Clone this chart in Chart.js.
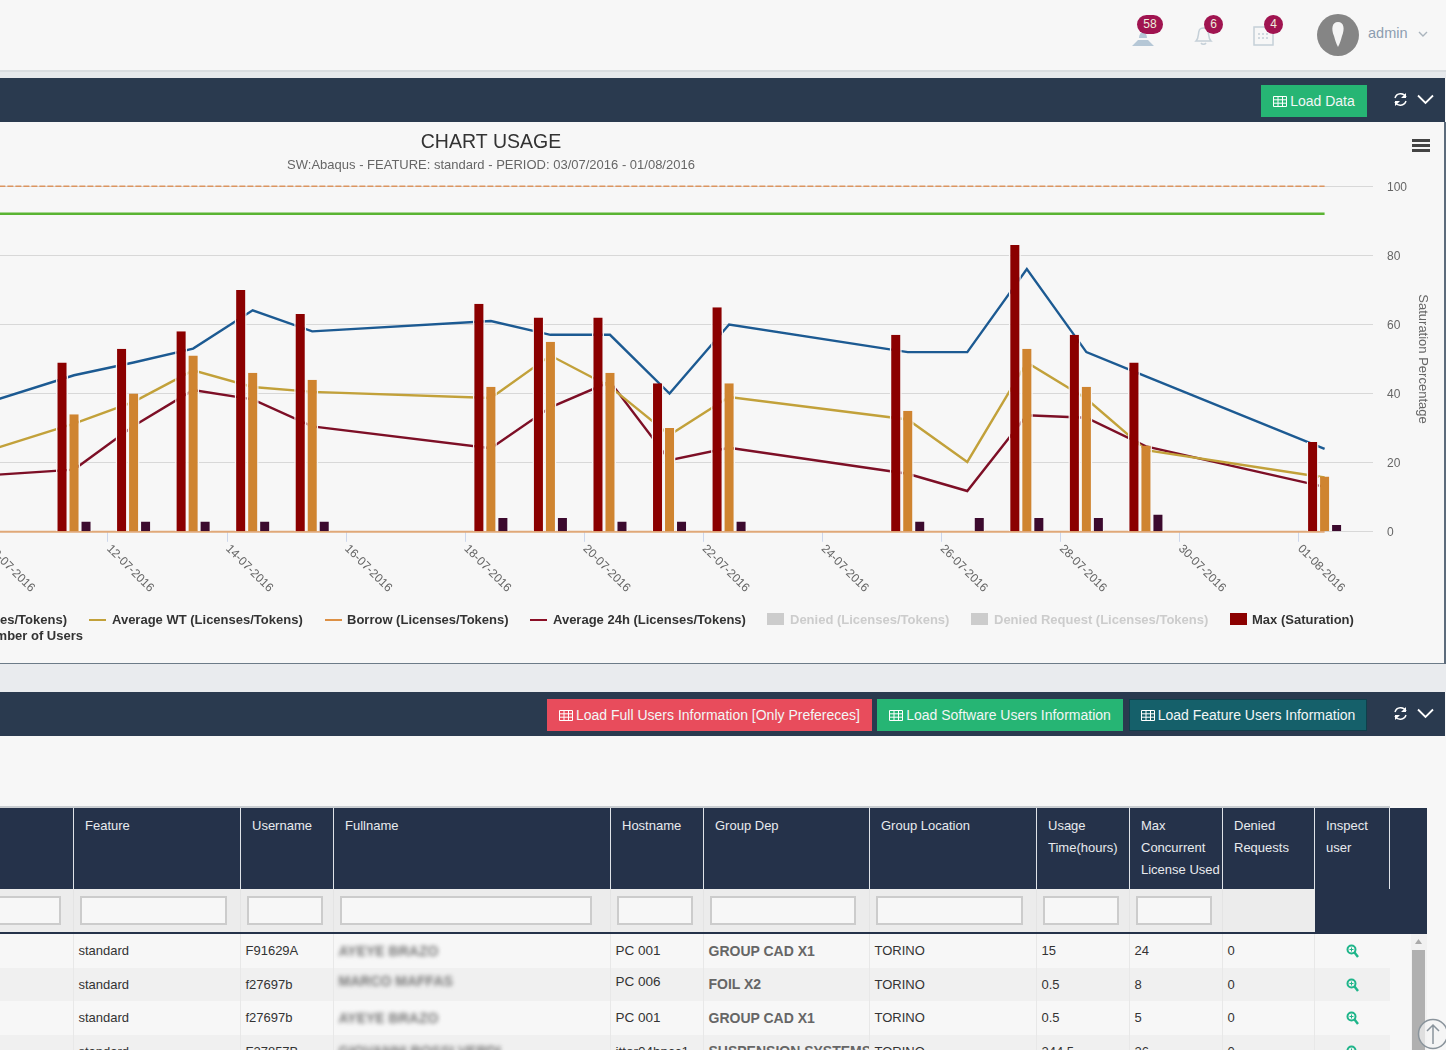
<!DOCTYPE html>
<html>
<head>
<meta charset="utf-8">
<title>Chart usage</title>
<script src="https://cdn.jsdelivr.net/npm/chart.js@4"></script>
<style>
html, body { margin: 0; padding: 0; }
body { width: 1446px; height: 1050px; position: relative; overflow: hidden; background: #f7f7f7; font-family: "Liberation Sans", Arial, sans-serif; }
.abs { position: absolute; }
.bar { position: absolute; left: 0; width: 1445px; height: 44px; background: #2a3a4f; }
.btn { position: absolute; height: 32px; line-height: 32px; color: #f2f6f6; font-size: 14px; text-align: center; box-sizing: border-box; white-space: nowrap; }
.btn svg { vertical-align: -1px; margin-right: 3px; }
.badge { position: absolute; height: 19px; line-height: 19px; border-radius: 10px; background: #a01450; color: #eed; font-size: 12px; text-align: center; }
.leg { position: absolute; font-size: 13px; font-weight: bold; color: #333; white-space: nowrap; line-height: 15px; }
.sym { position: absolute; }
table { position: absolute; left: -100px; top: 808px; border-collapse: collapse; table-layout: fixed; width: 1489px; font-size: 13px; }
th { background: #25324a; color: #e8eaee; font-weight: normal; text-align: left; vertical-align: top; height: 81px; padding: 7px 0 0 11px; line-height: 22px; box-sizing: border-box; border-left: 1px solid #dfe3e8; }
th:last-child { border-right: 1px solid #dfe3e8; }
td.filter { background: #ececec; height: 43px; padding: 0; border-left: 1px solid #e4e4e4; box-sizing: border-box; }
td.filter div { margin-left: 6px; height: 29px; box-sizing: border-box; border: 2px solid #ccc; background: #f7f7f7; }
td.cell { height: 33.5px; padding: 0 0 0 4.5px; color: #333; box-sizing: border-box; border-left: 1px solid #e8e8e8; white-space: nowrap; overflow: hidden; }
tr.even td.cell { background: #f0f0f0; }
.host { font-size: 13.5px; color: #333; }
.group { font-size: 14px; font-weight: bold; color: #666; }
.blur { filter: blur(2.2px); color: #777; font-weight: bold; font-size: 14px; display: inline-block; }
</style>
</head>
<body>

<!-- top bar -->
<div class="abs" style="left:0;top:70px;width:1446px;height:8px;background:#e6e9ec;border-top:2px solid #d9dde0;box-sizing:border-box"></div>
<svg class="abs" style="left:1130px;top:24px" width="26" height="24"><path d="M2 22 L8 16 H18 L24 22 Z M9 14 a4 6 0 0 1 8 0 Z" fill="#b5c7d6"/></svg>
<div class="badge" style="left:1137px;top:15px;width:26px">58</div>
<svg class="abs" style="left:1192px;top:22px" width="24" height="26"><path d="M4 19 C7 16 6 12 7 9 C8 5 15 5 16 9 C17 12 16 16 19 19 Z M9 21 a3 3 0 0 0 5 0" fill="none" stroke="#c5d0d8" stroke-width="1.5"/></svg>
<div class="badge" style="left:1204px;top:15px;width:19px">6</div>
<svg class="abs" style="left:1252px;top:24px" width="24" height="24"><rect x="2" y="3" width="19" height="18" fill="none" stroke="#c5d0d8" stroke-width="1.5"/><path d="M6 10h2M10 10h2M14 10h2M6 14h2M10 14h2M14 14h2" stroke="#c5d0d8" stroke-width="1.5"/></svg>
<div class="badge" style="left:1264px;top:15px;width:19px">4</div>
<svg class="abs" style="left:1317px;top:14px" width="42" height="42"><circle cx="21" cy="21" r="21" fill="#858585"/><path d="M21 8 C27 8 28 15 25 22 C24 26 23 29 21 33 C19 29 18 26 17 22 C14 15 15 8 21 8 Z" fill="#f4f4f4"/></svg>
<div class="abs" style="left:1368px;top:25px;font-size:14.5px;color:#8c9db0">admin</div>
<svg class="abs" style="left:1418px;top:30px" width="10" height="8"><path d="M1 2 L5 6 L9 2" fill="none" stroke="#aab4bd" stroke-width="1.4"/></svg>

<!-- chart panel header -->
<div class="bar" style="top:78px"></div>
<div class="btn" style="left:1261px;top:85px;width:106px;background:#26b574"><svg width="14" height="11"><path d="M.5.5h13v10h-13zM.5 3.8h13M.5 7.2h13M5 .5v10M9.5.5v10" fill="none" stroke="#fff"/></svg>Load Data</div>
<svg class="abs" style="left:1392px;top:91px" width="17" height="17"><path d="M3 7 A6 6 0 0 1 14 6 M14 10 A6 6 0 0 1 3 11" fill="none" stroke="#fff" stroke-width="1.5"/><path d="M14 2v5h-5zM3 15v-5h5z" fill="#fff"/></svg>
<svg class="abs" style="left:1417px;top:94px" width="17" height="11"><path d="M1 1.5 L8.5 9 L16 1.5" fill="none" stroke="#fff" stroke-width="1.8"/></svg>

<!-- chart panel -->
<div class="abs" style="left:0;top:122px;width:1446px;height:542px;overflow:hidden;border-bottom:1px solid #6c7b88;box-sizing:border-box">
  <canvas id="usageChart" width="1908" height="541" class="abs" style="left:-463px;top:0;width:1908px;height:541px"></canvas>
</div>
<div class="abs" style="left:1444px;top:122px;width:2px;height:542px;background:#5d6c7c"></div>
<div class="abs" style="left:1412px;top:139px;width:18px;height:3px;background:#444;box-shadow:0 5px 0 #444,0 10px 0 #444"></div>

<!-- legend, first and last entries run off the crop -->
<div class="leg" style="right:1379px;top:612px">Max (Licenses/Tokens)</div>
<div class="sym" style="left:89px;top:619px;width:17px;height:2px;background:#c2a13a"></div>
<div class="leg" style="left:112px;top:612px">Average WT (Licenses/Tokens)</div>
<div class="sym" style="left:325px;top:619px;width:17px;height:2px;background:#dd9045"></div>
<div class="leg" style="left:347px;top:612px">Borrow (Licenses/Tokens)</div>
<div class="sym" style="left:530px;top:619px;width:17px;height:2px;background:#8b0f26"></div>
<div class="leg" style="left:553px;top:612px">Average 24h (Licenses/Tokens)</div>
<div class="sym" style="left:767px;top:613px;width:17px;height:12px;background:#ccc"></div>
<div class="leg" style="left:790px;top:612px;color:#ccc">Denied (Licenses/Tokens)</div>
<div class="sym" style="left:971px;top:613px;width:17px;height:12px;background:#ccc"></div>
<div class="leg" style="left:994px;top:612px;color:#ccc">Denied Request (Licenses/Tokens)</div>
<div class="sym" style="left:1230px;top:613px;width:17px;height:12px;background:#8b0000"></div>
<div class="leg" style="left:1252px;top:612px">Max (Saturation)</div>
<div class="leg" style="right:1363px;top:628px">Max Number of Users</div>

<!-- table panel -->
<div class="abs" style="left:0;top:664px;width:1446px;height:28px;background:#e9ebee"></div>
<div class="bar" style="top:692px"></div>
<div class="btn" style="left:547px;top:699px;width:325px;background:#e84c5c"><svg width="14" height="11"><path d="M.5.5h13v10h-13zM.5 3.8h13M.5 7.2h13M5 .5v10M9.5.5v10" fill="none" stroke="#fff"/></svg>Load Full Users Information [Only Prefereces]</div>
<div class="btn" style="left:877px;top:699px;width:246px;background:#26b574"><svg width="14" height="11"><path d="M.5.5h13v10h-13zM.5 3.8h13M.5 7.2h13M5 .5v10M9.5.5v10" fill="none" stroke="#fff"/></svg>Load Software Users Information</div>
<div class="btn" style="left:1129px;top:699px;width:238px;background:#15606a;border:1px solid #0f3f4a;line-height:30px"><svg width="14" height="11"><path d="M.5.5h13v10h-13zM.5 3.8h13M.5 7.2h13M5 .5v10M9.5.5v10" fill="none" stroke="#fff"/></svg>Load Feature Users Information</div>
<svg class="abs" style="left:1392px;top:705px" width="17" height="17"><path d="M3 7 A6 6 0 0 1 14 6 M14 10 A6 6 0 0 1 3 11" fill="none" stroke="#fff" stroke-width="1.5"/><path d="M14 2v5h-5zM3 15v-5h5z" fill="#fff"/></svg>
<svg class="abs" style="left:1417px;top:708px" width="17" height="11"><path d="M1 1.5 L8.5 9 L16 1.5" fill="none" stroke="#fff" stroke-width="1.8"/></svg>

<div class="abs" style="left:0;top:806px;width:1390px;height:2px;background:#c9cdd1"></div>
<div class="abs" style="left:0;top:808px;width:1427px;height:126px;background:#25324a"></div>
<table id="usersTable"></table>
<div class="abs" style="left:0;top:932px;width:1427px;height:2px;background:#25324a"></div>
<div class="abs" style="left:1411px;top:934px;width:16px;height:116px;background:#f1f1f1"></div>
<div class="abs" style="left:1412px;top:950px;width:13px;height:100px;background:#b0b0b0"></div>
<svg class="abs" style="left:1414px;top:938px" width="9" height="7"><path d="M4.5 1 L8 6 H1 Z" fill="#aaa"/></svg>
<svg class="abs" style="left:1417px;top:1017px" width="29" height="33"><circle cx="16" cy="17" r="14.5" fill="#f4f4f4" fill-opacity=".7" stroke="#8a949c" stroke-width="1.5"/><path d="M16 27V8M10 14l6-6 6 6" fill="none" stroke="#8a949c" stroke-width="1.5"/></svg>

<script>
// Chart values. X is the day counted from 1 July
const sampleDays = [8.43, 11.43, 12.43, 13.43, 14.43, 15.43, 18.43, 19.43, 20.43, 21.43, 22.43, 25.43, 26.43, 27.43, 28.43, 29.43, 32.43];
const maxTokens = [29, 45.3, 49, 53, 64.1, 58, 61, 57, 57, 40, 60, 52, 52, 76, 52, 45, 24];
const averageWt = [15, 31.3, 37.6, 46.7, 41.9, 40.5, 38.7, 51, 42, 28, 39, 32.5, 20.2, 49, 38.5, 23.6, 15.7];
const average24h = [14.6, 18, 30.6, 41, 38.3, 30.5, 24.2, 36, 43.4, 20.7, 24.3, 16.8, 11.8, 33.7, 33, 24.7, 13];
const borrowLine = [0, 0, 0, 0, 0, 0, 0, 0, 0, 0, 0, 0, 0, 0, 0, 0, 0];
const capacityLine = [92, 92, 92, 92, 92, 92, 92, 92, 92, 92, 92, 92, 92, 92, 92, 92, 92];
const totalLine = [100, 100, 100, 100, 100, 100, 100, 100, 100, 100, 100, 100, 100, 100, 100, 100, 100];
const maxSaturation = [null, 49, 53, 58, 70, 63, 66, 62, 62, 43, 65, 57, null, 83, 57, 49, 26];
const maxConcurrent = [null, 34, 40, 51, 46, 44, 42, 55, 46, 30, 43, 35, null, 53, 42, 25, 16];
const numberOfUsers = [null, 3, 3, 3, 3, 3, 4, 4, 3, 3, 3, 3, 4, 4, 4, 5, 2];
const tickDays = [4, 6, 8, 10, 12, 14, 16, 18, 20, 22, 24, 26, 28, 30, 32];
const tickLabels = ["04-07-2016", "06-07-2016", "08-07-2016", "10-07-2016", "12-07-2016", "14-07-2016", "16-07-2016", "18-07-2016", "20-07-2016", "22-07-2016", "24-07-2016", "26-07-2016", "28-07-2016", "30-07-2016", "01-08-2016"];
const yTicks = [0, 20, 40, 60, 80, 100];

// Table values
const columns = ["", "Feature", "Username", "Fullname", "Hostname", "Group Dep", "Group Location", "Usage Time(hours)", "Max Concurrent License Used", "Denied Requests", "Inspect user"];
const columnWidths = [173, 167, 93, 277, 93, 166, 167, 93, 93, 92, 75];
const filterWidths = [154, 147, 76, 252, 76, 146, 147, 76, 76];
const rows = [
  ["", "standard", "F91629A", "AYEYE BRAZO", "PC 001", "GROUP CAD X1", "TORINO", "15", "24", "0"],
  ["", "standard", "f27697b", "MARCO MAFFAS", "PC 006", "FOIL X2", "TORINO", "0.5", "8", "0"],
  ["", "standard", "f27697b", "AYEYE BRAZO", "PC 001", "GROUP CAD X1", "TORINO", "0.5", "5", "0"],
  ["", "standard", "F27857B", "GIOVANNI ROSSI VERDI", "jttor04hpcc1", "SUSPENSION SYSTEMS(6", "TORINO", "244.5", "26", "0"]
];

function lineSet(label, data, color, width, dash) {
  return {
    type: "line", label,
    data: data.map((y, i) => ({ x: sampleDays[i], y })),
    borderColor: color, borderWidth: width, borderDash: dash || [],
    pointRadius: 0, tension: 0, fill: false, order: 2, clip: false
  };
}

function barSet(label, data, color) {
  return {
    type: "bar", label,
    data: data.map((y, i) => ({ x: sampleDays[i], y })),
    backgroundColor: color,
    // the gap between bars is a border in the panel colour, it hides the lines
    borderColor: "#f7f7f7", borderWidth: { left: 1.5, right: 1.5, top: 0, bottom: 0 },
    barPercentage: 1, categoryPercentage: 0.6045, order: 1
  };
}

// Chart.js only right-aligns rotated labels, these hang down to the right from the tick
const slantedLabels = {
  id: "slantedLabels",
  afterDraw(chart) {
    const ctx = chart.ctx, scale = chart.scales.x;
    ctx.save();
    ctx.font = "12px 'Liberation Sans'";
    ctx.fillStyle = "#666";
    ctx.textBaseline = "middle";
    tickDays.forEach((d, i) => {
      ctx.save();
      ctx.translate(scale.getPixelForValue(d) + 0.5, chart.chartArea.bottom + 15);
      ctx.rotate(Math.PI / 4);
      ctx.fillText(tickLabels[i], 0, 0);
      ctx.restore();
    });
    ctx.restore();
  }
};

new Chart(document.getElementById("usageChart"), {
  type: "bar",
  plugins: [slantedLabels],
  data: {
    datasets: [
      lineSet("Max (Licenses/Tokens)", maxTokens, "#1c5a92", 2.4),
      lineSet("Average WT (Licenses/Tokens)", averageWt, "#c2a13a", 2.4),
      lineSet("Borrow (Licenses/Tokens)", borrowLine, "#e0a878", 2),
      lineSet("Average 24h (Licenses/Tokens)", average24h, "#7d0f26", 2.4),
      lineSet("Capacity", capacityLine, "#5ab432", 2.5),
      lineSet("Total", totalLine, "#dc9560", 1.5, [6, 2]),
      barSet("Max (Saturation)", maxSaturation, "#8b0000"),
      barSet("Max Concurrent", maxConcurrent, "#cf8430"),
      barSet("Max Number of Users", numberOfUsers, "#3c0a2e")
    ]
  },
  options: {
    responsive: false,
    animation: false,
    layout: { padding: { left: 0, right: 0, top: 0, bottom: 121.2 } },
    plugins: {
      legend: { display: false },
      tooltip: { enabled: false },
      title: {
        display: true, text: "CHART USAGE", color: "#333",
        font: { family: "'Liberation Sans'", size: 19.5, weight: "normal" },
        padding: { top: 9, bottom: 3 }
      },
      subtitle: {
        display: true, text: "SW:Abaqus - FEATURE: standard - PERIOD: 03/07/2016 - 01/08/2016", color: "#666",
        font: { family: "'Liberation Sans'", size: 13, weight: "normal" },
        padding: { top: 0, bottom: 13.2 }
      }
    },
    scales: {
      x: {
        type: "linear", min: 2.412, max: 33.243, offset: false,
        afterBuildTicks: s => { s.ticks = tickDays.map(value => ({ value })); },
        ticks: { display: false },
        grid: { offset: false, drawOnChartArea: false, drawTicks: true, tickLength: 10, color: "#ccd6eb" },
        border: { display: false }
      },
      y: {
        position: "right", min: 0, max: 100,
        afterBuildTicks: s => { s.ticks = yTicks.map(value => ({ value })); },
        afterFit: s => { s.width = 72; },
        ticks: { color: "#666", font: { family: "'Liberation Sans'", size: 12 }, padding: 14, labelOffset: 1 },
        grid: { color: "#d8d8d8", lineWidth: 1, drawTicks: false },
        border: { display: false },
        title: { display: true, text: "Saturation Percentage", color: "#666", font: { family: "'Liberation Sans'", size: 13 }, padding: { top: 15, bottom: 0 } }
      }
    }
  }
});

// users table
const zoomIcon = '<svg width="13" height="14"><circle cx="5.5" cy="5.5" r="4" fill="none" stroke="#1fb58a" stroke-width="2"/><path d="M8.5 8.5 L12 13" stroke="#1fb58a" stroke-width="2.4"/><path d="M3.5 5.5h4M5.5 3.5v4" stroke="#1fb58a"/></svg>';
let html = "<colgroup>" + columnWidths.map(w => `<col style="width:${w}px">`).join("") + "</colgroup>";
html += "<tr>" + columns.map(c => `<th>${c}</th>`).join("") + "</tr>";
html += "<tr>" + columns.map((c, i) => {
  if (i === 9) return '<td class="filter"></td>';
  if (i === 10) return '<td style="background:#25324a"></td>';
  return `<td class="filter"><div style="width:${filterWidths[i]}px"></div></td>`;
}).join("") + "</tr>";
html += '<tr><td colspan="11" style="height:2px;padding:0"></td></tr>';
rows.forEach((row, r) => {
  html += `<tr class="${r % 2 ? "even" : ""}">`;
  row.forEach((v, i) => {
    let inner = v;
    const lift = r === 1 && (i === 3 || i === 4) ? ' style="position:relative;top:-3px"' : "";
    if (i === 3) inner = `<span class="blur"${lift}>${v}</span>`;
    if (i === 4) inner = `<span class="host"${lift}>${v}</span>`;
    if (i === 5) inner = `<span class="group">${v}</span>`;
    html += `<td class="cell">${inner}</td>`;
  });
  html += `<td class="cell" style="text-align:center;padding:4px 0 0 0">${zoomIcon}</td></tr>`;
});
document.getElementById("usersTable").innerHTML = html;
</script>
</body>
</html>
